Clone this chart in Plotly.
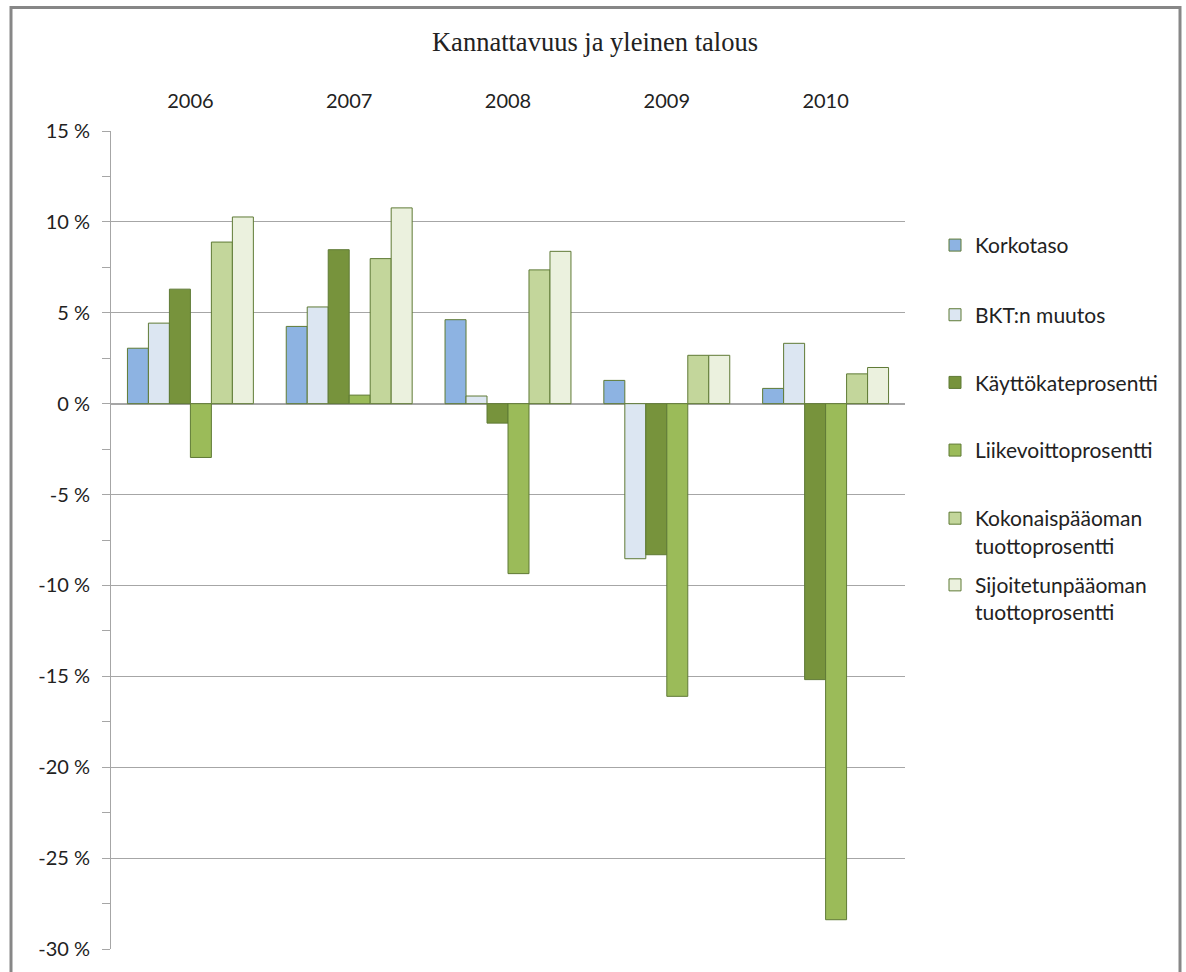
import plotly.graph_objects as go

years = ["2006", "2007", "2008", "2009", "2010"]
korkotaso = [3.05, 4.25, 4.62, 1.28, 0.84]
bkt_muutos = [4.43, 5.32, 0.42, -8.53, 3.32]
kayttokate = [6.30, 8.47, -1.07, -8.31, -15.18]
liikevoitto = [-2.96, 0.47, -9.35, -16.1, -28.39]
kokonais = [8.89, 7.98, 7.36, 2.66, 1.64]
sijoitetun = [10.27, 10.77, 8.38, 2.66, 1.99]

series_names = ["Korkotaso", "BKT:n muutos", "Käyttökateprosentti", "Liikevoittoprosentti",
                "Kokonaispääoman<br>tuottoprosentti", "Sijoitetunpääoman<br>tuottoprosentti"]
series_values = [korkotaso, bkt_muutos, kayttokate, liikevoitto, kokonais, sijoitetun]
fills = ["#8DB3E2", "#DCE6F2", "#77933C", "#9BBB59", "#C3D69B", "#EBF1DE"]
outline = "#5F7A35"

tick_vals = [15, 10, 5, 0, -5, -10, -15, -20, -25, -30]
tick_text = ["15 %", "10 %", "5 %", "0 %", "-5 %", "-10 %", "-15 %", "-20 %", "-25 %", "-30 %"]

# plot area in pixels
L, R, T, B = 111, 905, 131, 953
W, H = 1186, 972
pw, ph = R - L, B - T

def py(p):  # pixel y -> paper y
    return (B - p) / ph

def px(p):
    return (p - L) / pw

legend_centers = [246, 316, 384, 452, 534, 601]

fig = go.Figure()
for i, (name, vals, col) in enumerate(zip(series_names, series_values, fills)):
    lg = "legend" if i == 0 else f"legend{i+1}"
    fig.add_trace(go.Bar(
        x=years, y=vals, name=name, marker=dict(color=col, line=dict(color=outline, width=1)),
        legend=lg,
    ))

font_sans = "Lato"
leg_common = dict(font=dict(family=font_sans, size=21, color="#222"), bgcolor="rgba(0,0,0,0)",
                  borderwidth=0, xanchor="left", x=px(935), yanchor="middle", valign="top",
                  itemwidth=30, tracegroupgap=0)
legends = {}
for i, c in enumerate(legend_centers):
    key = "legend" if i == 0 else f"legend{i+1}"
    legends[key] = dict(leg_common, y=py(c))

fig.update_layout(
    width=W, height=H,
    margin=dict(l=L, r=W - R, t=T, b=H - B, pad=0),
    paper_bgcolor="white", plot_bgcolor="white",
    barmode="group", bargap=0.207, bargroupgap=0,
    title=dict(text="Kannattavuus ja yleinen talous", xref="container", x=595 / W, xanchor="center",
               yref="container", y=1 - 42 / H, yanchor="middle",
               font=dict(family="Liberation Serif", size=26.5, color="#222")),
    xaxis=dict(side="top", showline=False, ticks="", showgrid=False, zeroline=False,
               tickfont=dict(family=font_sans, size=20, color="#222"), ticklabelstandoff=18,
               fixedrange=True),
    yaxis=dict(range=[-30, 15], tickvals=tick_vals, ticktext=tick_text,
               showgrid=True, gridcolor="#A6A6A6", gridwidth=1,
               zeroline=True, zerolinecolor="#A6A6A6", zerolinewidth=2,
               showline=True, linecolor="#A6A6A6", linewidth=1,
               ticks="outside", ticklen=8, tickcolor="#A6A6A6", tickwidth=1,
               minor=dict(tickvals=[12.5, 7.5, 2.5, -2.5, -7.5, -12.5, -17.5, -22.5, -27.5],
                          ticks="outside", ticklen=8, tickcolor="#A6A6A6", showgrid=False),
               tickfont=dict(family=font_sans, size=20, color="#222"), ticklabelstandoff=8,
               fixedrange=True),
    showlegend=True,
    shapes=[dict(type="rect", xref="paper", yref="paper",
                 x0=px(11), x1=px(1180), y0=py(995), y1=py(7),
                 line=dict(color="#878787", width=3), fillcolor="rgba(0,0,0,0)", layer="below")],
    **legends,
)

fig.write_html("out.html")
